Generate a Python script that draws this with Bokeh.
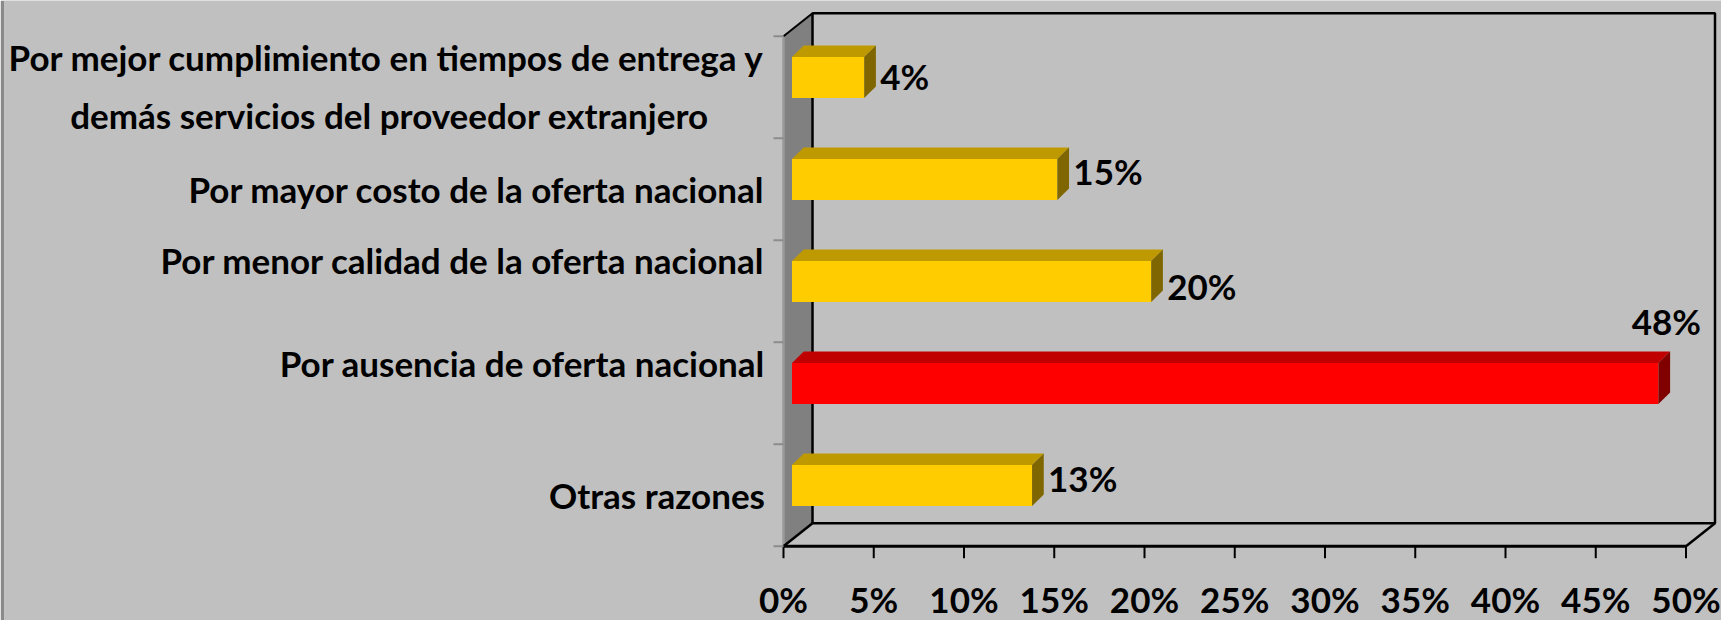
from bokeh.plotting import figure
from bokeh.models import Range1d, ColumnDataSource
from bokeh.core.properties import value
from bokeh.embed import file_html
from bokeh.resources import INLINE

# ---------------- data ----------------
categories = [
    "Por mejor cumplimiento en tiempos de entrega y\ndemás servicios del proveedor extranjero",
    "Por mayor costo de la oferta nacional",
    "Por menor calidad de la oferta nacional",
    "Por ausencia de oferta nacional",
    "Otras razones",
]
values = [4.0, 14.7, 19.9, 48.0, 13.3]
x_ticks = [0, 5, 10, 15, 20, 25, 30, 35, 40, 45, 50]

# ---------------- style (pixels) ----------------
FONT = "Lato"
CAT_SIZE = "35px"
NUM_SIZE = "35px"
W, H = 1721, 620
STRIPE = 4                 # dark strip on the left edge of the picture
ORIGIN_X = 783.0           # canvas x of 0 % on the front plane
FLOOR_Y = 545.7            # canvas y of the floor front edge
XPX = 18.05                # px per percent
YPX = 102.0                # px per category
WALL_DX, WALL_DY = 29.0, 23.0
BAR_DX0, BAR_DY0 = 8.5, 9.6
BAR_H = 41.0
BAR_DEPTH_X, BAR_DEPTH_Y = 11.7, 11.7
TICK_LEN = 12.0
CAT_TICK_LEN = 10.0
XLABEL_DROP = 52.5
CAT_LABEL_GAP = 18.5       # px between 0 % and right edge of category labels
label_shift_px = [1, 0, 31, 30, 0]
line_gap_px = 58.5
line2_center_px = -394.0
value_label_nudge_px = [-2, -9, 4, 0, -8]
YELLOW = ("#FFCC00", "#BF9900", "#7F6600")
RED = ("#FF0000", "#C00000", "#800000")
BG = "#C0C0C0"
SIDE = "#808080"

n = len(categories)
p = figure(width=W, height=H,
           x_range=Range1d((STRIPE - ORIGIN_X) / XPX, (W - ORIGIN_X) / XPX),
           y_range=Range1d(-(H - FLOOR_Y) / YPX, FLOOR_Y / YPX),
           output_backend="svg", toolbar_location=None,
           x_axis_location=None, y_axis_location=None,
           min_border_left=STRIPE, min_border_right=0,
           min_border_top=0, min_border_bottom=0,
           background_fill_color=BG, border_fill_color="#8a8a8a",
           outline_line_color=None)
p.xgrid.visible = False
p.ygrid.visible = False

# ---------------- walls ----------------
DX, DY = WALL_DX / XPX, WALL_DY / YPX
xmax = x_ticks[-1]
p.patch([0, DX, DX, 0], [0, DY, n + DY, n], fill_color=SIDE, line_color=None)
p.line([0, 0], [0, n], line_color="#9a9a9a", line_width=2.5)
p.line([DX, DX, xmax + DX, xmax + DX, DX], [DY, n + DY, n + DY, DY, DY],
       line_color="black", line_width=2.5)
p.line([0, DX], [n, n + DY], line_color="black", line_width=2)
p.line([0, xmax], [0, 0], line_color="black", line_width=3)
p.line([0, DX], [0, DY], line_color="black", line_width=2.5)
p.line([xmax, xmax + DX], [0, DY], line_color="black", line_width=2.5)

# value axis ticks and labels
p.segment(x0=x_ticks, y0=[0] * len(x_ticks), x1=x_ticks,
          y1=[-TICK_LEN / YPX] * len(x_ticks), line_color="black", line_width=2)
p.text(x=x_ticks, y=[-XLABEL_DROP / YPX] * len(x_ticks),
       text=[f"{t}%" for t in x_ticks], text_align="center", text_baseline="middle",
       text_font=value(FONT), text_font_style="bold", text_font_size=NUM_SIZE,
       text_color="black")

# category axis ticks (boundaries)
bounds = list(range(n + 1))
p.segment(x0=[-CAT_TICK_LEN / XPX] * len(bounds), y0=bounds, x1=[0] * len(bounds), y1=bounds,
          line_color="#8c8c8c", line_width=2)

# ---------------- bars ----------------
x0 = BAR_DX0 / XPX
bdx, bdy = BAR_DEPTH_X / XPX, BAR_DEPTH_Y / YPX
half = BAR_H / 2 / YPX
vmax = max(values)
fl, fr, fb, ft, fc = [], [], [], [], []
txs, tys, tcs = [], [], []
sxs, sys_, scs = [], [], []
lx, ly, lt, lxo, lyo, la = [], [], [], [], [], []
for k, (cat, v) in enumerate(zip(categories, values)):
    pos = n - 1 - k
    cols = RED if v == vmax else YELLOW
    yc = pos + 0.5 + BAR_DY0 / YPX
    yb, yt = yc - half, yc + half
    xe = x0 + v
    fl.append(x0); fr.append(xe); fb.append(yb); ft.append(yt); fc.append(cols[0])
    txs.append([x0, xe, xe + bdx, x0 + bdx]); tys.append([yt, yt, yt + bdy, yt + bdy]); tcs.append(cols[1])
    sxs.append([xe, xe + bdx, xe + bdx, xe]); sys_.append([yb, yb + bdy, yt + bdy, yt]); scs.append(cols[2])
    if xe + (16 + 72) / XPX > xmax:
        lx.append(xe); ly.append(yt); lxo.append(8); lyo.append(-41.7); la.append("center")
    else:
        lx.append(xe); ly.append(yc); lxo.append(16); lyo.append(value_label_nudge_px[k]); la.append("left")
    lt.append(f"{round(v)}%")

p.quad(left=fl, right=fr, bottom=fb, top=ft, fill_color=fc, line_color=None)
p.patches(txs, tys, fill_color=tcs, line_color=None)
p.patches(sxs, sys_, fill_color=scs, line_color=None)

lsrc = ColumnDataSource(dict(x=lx, y=ly, text=lt, xo=lxo, yo=lyo, align=la))
p.text(x="x", y="y", text="text", x_offset="xo", y_offset="yo", text_align="align",
       source=lsrc, text_baseline="middle", text_font=value(FONT),
       text_font_style="bold", text_font_size=NUM_SIZE, text_color="black")

# ---------------- category labels ----------------
cx, cy, ct, ca = [], [], [], []
for k, cat in enumerate(categories):
    pos = n - 1 - k
    mid = pos + 0.5 + label_shift_px[k] / YPX
    lines = cat.split("\n")
    if len(lines) == 1:
        cx.append(-CAT_LABEL_GAP / XPX); cy.append(mid); ct.append(lines[0]); ca.append("right")
    else:
        cx.append(-CAT_LABEL_GAP / XPX); cy.append(mid + line_gap_px / 2 / YPX)
        ct.append(lines[0]); ca.append("right")
        cx.append(line2_center_px / XPX); cy.append(mid - line_gap_px / 2 / YPX)
        ct.append(lines[1]); ca.append("center")
csrc = ColumnDataSource(dict(x=cx, y=cy, text=ct, align=ca))
p.text(x="x", y="y", text="text", text_align="align", source=csrc,
       text_baseline="middle", text_font=value(FONT), text_font_style="bold",
       text_font_size=CAT_SIZE, text_color="black")

open("out.html", "w").write(file_html(p, INLINE, title="chart"))
